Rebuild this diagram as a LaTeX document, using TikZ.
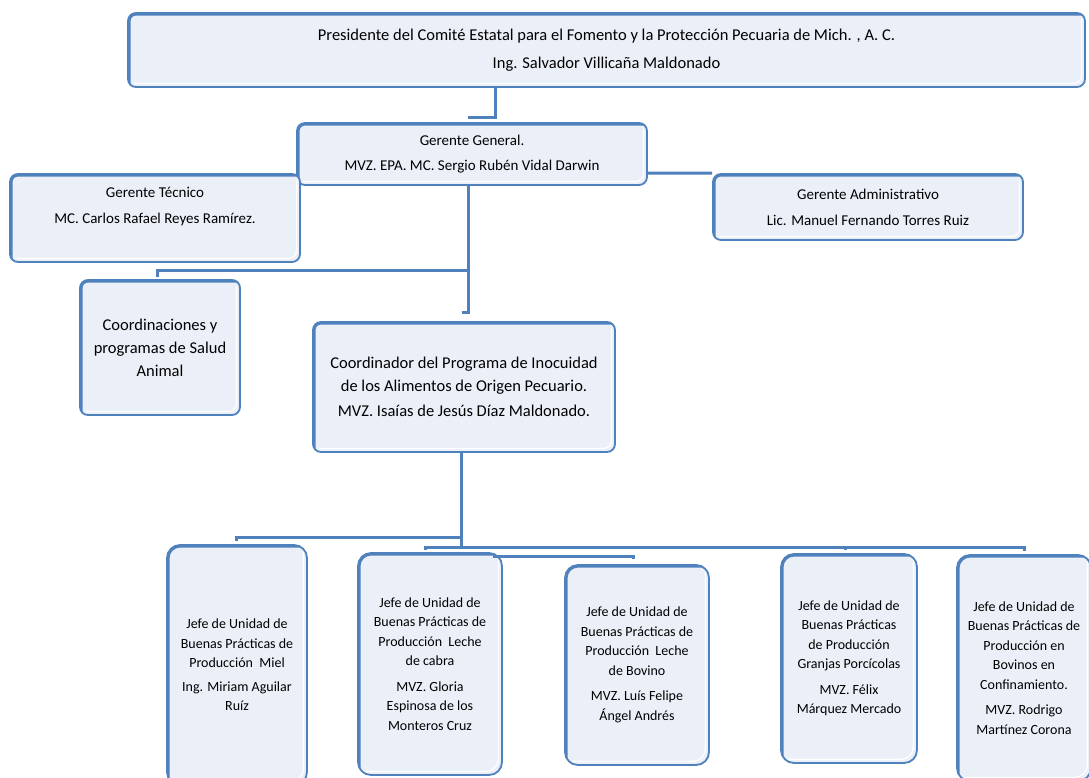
\documentclass[tikz,border=0pt]{standalone}
\usepackage{fontspec}
\setmainfont{Carlito}
\usetikzlibrary{positioning}
\definecolor{boxblue}{HTML}{4F81BD}
\definecolor{boxfill}{HTML}{EBF0F8}
\tikzset{
    orgbox/.style = {rectangle, rounded corners=8pt, line width=1.8pt, draw=boxblue, fill=boxfill, align=center, inner sep=0pt, text=black, font=\fontsize{15}{18}\selectfont,
      path picture={
        \draw[line width=5pt, boxblue] (path picture bounding box.south west) -- (path picture bounding box.north west) -- (path picture bounding box.north east);
        \draw[white, line width=1.2pt] ([xshift=6pt,yshift=3.5pt]path picture bounding box.south west) -- ([xshift=-3.5pt,yshift=3.5pt]path picture bounding box.south east) -- ([xshift=-3.5pt,yshift=-6pt]path picture bounding box.north east);
      }},
    orgboxt/.style = {orgbox, font=\fontsize{16.5}{19}\selectfont},
    orgboxl/.style = {orgbox, font=\fontsize{16.5}{23}\selectfont},
    orgboxs/.style = {orgbox, rounded corners=13pt, font=\fontsize{14}{19.5}\selectfont},
    edgeo/.style = {-, line width=3pt, boxblue},
}

\begin{document}
\begin{tikzpicture}[x=1pt, y=-1pt]
  \useasboundingbox (0,0) rectangle (1089,777);
  % upper levels
  \node[orgboxt, minimum width=957pt, minimum height=74pt] (pres) at (606.5,50)
    {Presidente del Comité Estatal para el Fomento y la Protección Pecuaria de Mich. , A. C.\\[9pt]Ing. Salvador Villicaña Maldonado};
  \node[orgbox, minimum width=350pt, minimum height=62pt] (gg) at (472,154)
    {Gerente General.\\[7pt]MVZ. EPA. MC. Sergio Rubén Vidal Darwin};
  \node[orgbox, minimum width=290pt, minimum height=88pt] (gt) at (155,218)
    {Gerente Técnico\\[8pt]MC. Carlos Rafael Reyes Ramírez.\\[8pt]\mbox{}};
  \node[orgbox, minimum width=310pt, minimum height=66pt] (ga) at (868,207)
    {Gerente Administrativo\\[8pt]Lic. Manuel Fernando Torres Ruiz};
  \node[orgboxl, minimum width=160pt, minimum height=135pt] (salud) at (160,347.5)
    {Coordinaciones y\\programas de Salud\\Animal};
  \node[orgboxl, minimum width=302pt, minimum height=130pt] (coord) at (464,387)
    {Coordinador del Programa de Inocuidad\\de los Alimentos de Origen Pecuario.\\[2pt]MVZ. Isaías de Jesús Díaz Maldonado.};
  % unidades
  \node[orgboxs, minimum width=140pt, minimum height=240pt] (miel) at (237,665)
    {Jefe de Unidad de\\Buenas Prácticas de\\Producción~ Miel\\[4pt]Ing. Miriam Aguilar\\Ruíz};
  \node[orgboxs, minimum width=144pt, minimum height=222pt] (cabra) at (430,664)
    {Jefe de Unidad de\\Buenas Prácticas de\\Producción~ Leche\\de cabra\\[6pt]MVZ. Gloria\\Espinosa de los\\Monteros Cruz};
  \node[orgboxs, minimum width=144pt, minimum height=200pt] (bovino) at (637,665)
    {Jefe de Unidad de\\Buenas Prácticas de\\Producción~ Leche\\de Bovino\\[6pt]MVZ. Luís Felipe\\Ángel Andrés};
  \node[orgboxs, minimum width=136pt, minimum height=209pt] (porc) at (849,658.5)
    {Jefe de Unidad de\\Buenas Prácticas\\de Producción\\Granjas Porcícolas\\[6pt]MVZ. Félix\\Márquez Mercado};
  \node[orgboxs, minimum width=134pt, minimum height=226pt] (conf) at (1024,668)
    {Jefe de Unidad de\\Buenas Prácticas de\\Producción en\\Bovinos en\\Confinamiento.\\[6pt]MVZ. Rodrigo\\Martínez Corona};
  % junctions
  \coordinate (j1) at (468,117);
  \coordinate (j2) at (462,312);
  \coordinate (j3) at (468,270);
  \coordinate (j4) at (461,537);
  \coordinate (j5) at (461,547);
  \coordinate (k1) at (157,277);
  \coordinate (k2) at (236,541);
  \coordinate (k3) at (425,550);
  \coordinate (k4) at (845,550);
  \coordinate (k5) at (1024,551);
  \coordinate (k6) at (493,556);
  \coordinate (k7) at (633,559);
  % connectors
  \draw[edgeo] (pres.south -| 495,0) |- (j1);
  \draw[edgeo] ([yshift=-19pt]gg.east) -- (ga.north west);
  \draw[edgeo] (gg.south -| j3) -- (j3) -- (j3 |- j2) -- (j2);
  \draw[edgeo] (j3) -| (k1);
  \draw[edgeo] (coord.south -| j4) -- (j5);
  \draw[edgeo] (j4) -| (k2);
  \draw[edgeo] (k3) |- (j5) -| (k5);
  \draw[edgeo] (k4) -- (k4 |- j5);
  \draw[edgeo] (k6) -| (k7);
\end{tikzpicture}
\end{document}
